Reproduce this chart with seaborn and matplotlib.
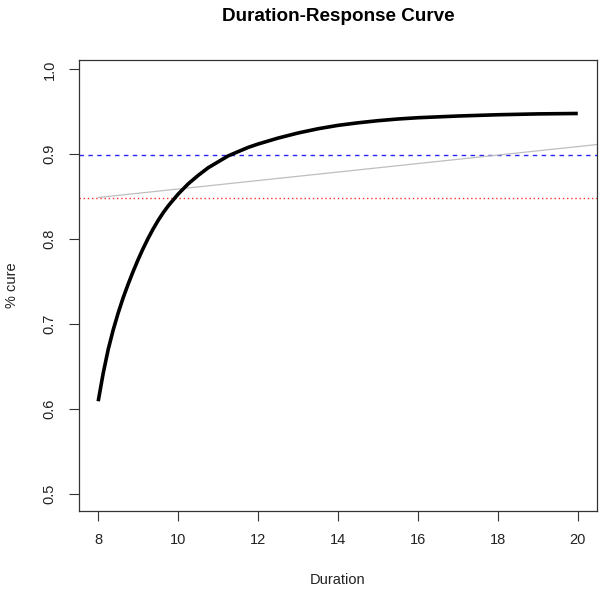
import pandas as pd
import seaborn as sns
import matplotlib.pyplot as plt

# Curve values
duration = [8.0, 8.125, 8.25, 8.375, 8.5, 8.625, 8.75, 8.875, 9.0, 9.125, 9.25,
            9.375, 9.5, 9.625, 9.75, 9.875, 10.0, 10.125, 10.25, 10.375, 10.5,
            10.75, 11.0, 11.25, 11.5, 11.75, 12.0, 12.5, 13.0, 13.5, 14.0, 14.5,
            15.0, 15.5, 16.0, 16.5, 17.0, 18.0, 19.0, 20.0]
cure = [0.609, 0.642, 0.670, 0.693, 0.713, 0.731, 0.747, 0.762, 0.776, 0.789,
        0.801, 0.812, 0.822, 0.831, 0.839, 0.846, 0.853, 0.859, 0.865, 0.870,
        0.875, 0.884, 0.891, 0.898, 0.903, 0.908, 0.912, 0.919, 0.925, 0.930,
        0.934, 0.937, 0.9395, 0.9415, 0.943, 0.944, 0.945, 0.9465, 0.9475, 0.948]

# reference lines
blue_level = 0.899
red_level = 0.849
grey_x = [8.0, 21.0]
grey_y = [0.849, 0.914]

x_ticks = [8, 10, 12, 14, 16, 18, 20]
y_ticks = [0.5, 0.6, 0.7, 0.8, 0.9, 1.0]

df = pd.DataFrame({'Duration': duration, 'cure': cure})
df_grey = pd.DataFrame({'Duration': grey_x, 'cure': grey_y})

sns.set_theme(style='ticks')
plt.rcParams['font.family'] = ['Liberation Sans', 'DejaVu Sans']

fig = plt.figure(figsize=(6, 5.9), dpi=100)
fig.patch.set_facecolor('white')
ax = fig.add_axes([0.1317, 0.1344, 0.8633, 0.7639])

ax.axhline(blue_level, color='#2424ff', lw=1.0, ls=(0, (3.2, 3.2)), zorder=1)
ax.axhline(red_level, color='#ff3030', lw=1.0, ls=(0, (1, 2)), zorder=1)
sns.lineplot(data=df_grey, x='Duration', y='cure', color='#bebebe', lw=0.9, ax=ax, zorder=2)
sns.lineplot(data=df, x='Duration', y='cure', color='black', lw=2.6, ax=ax, zorder=3,
             solid_joinstyle='round', solid_capstyle='butt')

ax.set_xlim(7.52, 20.48)
ax.set_ylim(0.48, 1.011)
ax.set_xticks(x_ticks)
ax.set_yticks(y_ticks)
ax.set_xticklabels([str(t) for t in x_ticks])
ax.set_yticklabels([f'{t:.1f}' for t in y_ticks], rotation=90, va='center')

for s in ax.spines.values():
    s.set_visible(True)
    s.set_color('#333333')
    s.set_linewidth(0.9)
ax.tick_params(axis='both', direction='out', length=7, width=0.8, color='#333333',
               labelsize=10.5, pad=9, labelcolor='#222222')

ax.set_xlabel('Duration', fontsize=10.5, labelpad=19, color='#222222')
ax.set_ylabel('% cure', fontsize=10.5, labelpad=17, color='#222222')
ax.set_title('Duration-Response Curve', fontsize=13.6, fontweight='bold', pad=28,
             color='black')

fig.savefig('out.png', dpi=100, facecolor='white')
